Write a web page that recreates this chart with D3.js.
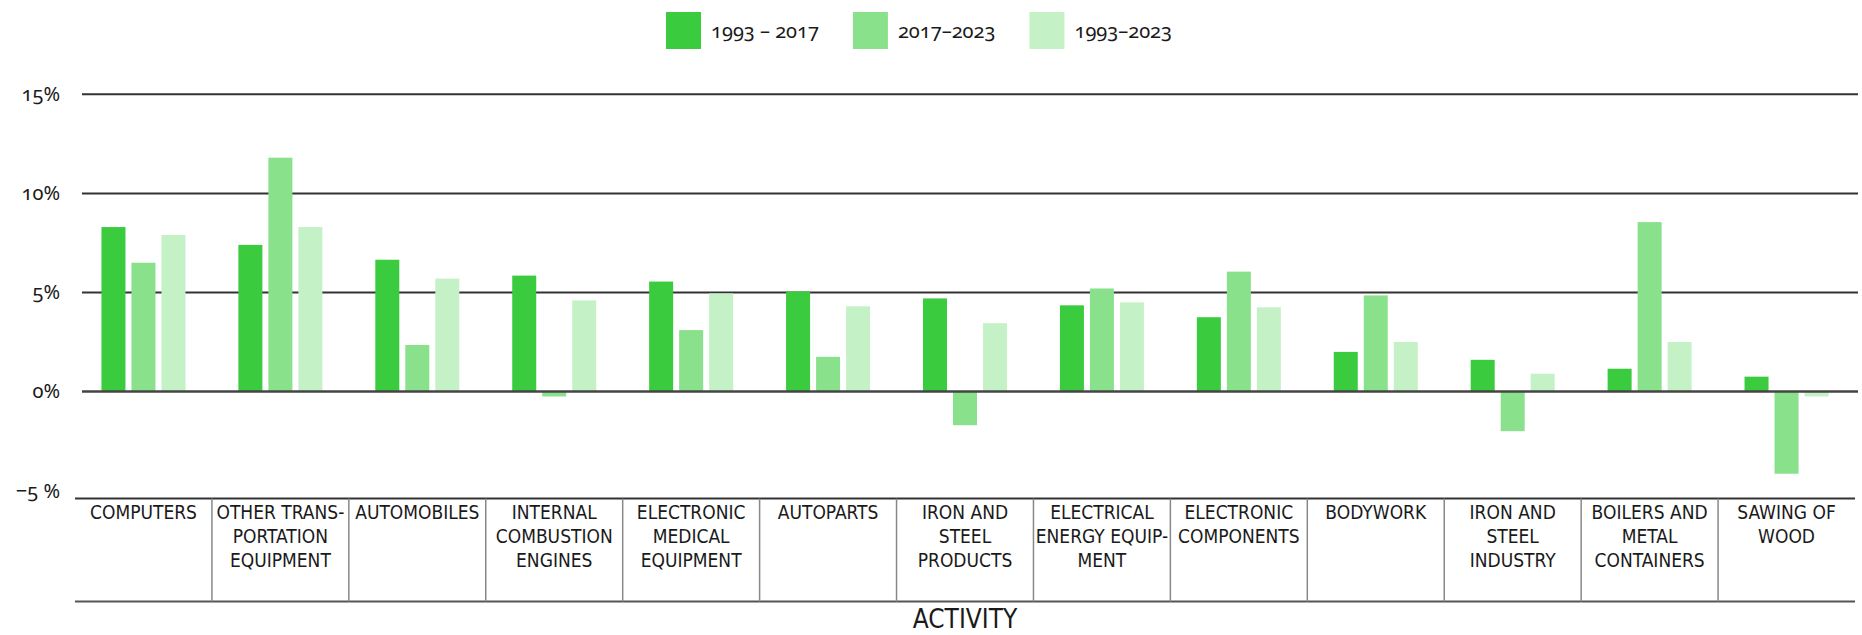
<!DOCTYPE html>
<html><head><meta charset="utf-8">
<script src="https://cdn.jsdelivr.net/npm/d3@7"></script>
<style>
body{margin:0;background:#fff}
svg{display:block}
.num{font-family:"Noto Sans","Open Sans",sans-serif;font-variant-numeric:oldstyle-nums;font-feature-settings:"onum" 1;fill:#1a1a1a}
.cat{font-family:"Liberation Sans Narrow","DejaVu Sans Condensed","Liberation Sans",sans-serif;fill:#1a1a1a}
</style>
</head><body>
<svg id="c" width="1862" height="635"></svg>
<script>
const categories = [
  "COMPUTERS",
  "OTHER TRANS-\nPORTATION\nEQUIPMENT",
  "AUTOMOBILES",
  "INTERNAL\nCOMBUSTION\nENGINES",
  "ELECTRONIC\nMEDICAL\nEQUIPMENT",
  "AUTOPARTS",
  "IRON AND\nSTEEL\nPRODUCTS",
  "ELECTRICAL\nENERGY EQUIP-\nMENT",
  "ELECTRONIC\nCOMPONENTS",
  "BODYWORK",
  "IRON AND\nSTEEL\nINDUSTRY",
  "BOILERS AND\nMETAL\nCONTAINERS",
  "SAWING OF\nWOOD"
];
const seriesNames = ["1993 – 2017", "2017–2023", "1993–2023"];
const v1993_2017 = [8.3, 7.4, 6.65, 5.85, 5.55, 5.05, 4.7, 4.35, 3.75, 2.0, 1.6, 1.15, 0.75];
const v2017_2023 = [6.5, 11.8, 2.35, -0.25, 3.1, 1.75, -1.7, 5.2, 6.05, 4.85, -2.0, 8.55, -4.15];
const v1993_2023 = [7.9, 8.3, 5.7, 4.6, 4.95, 4.3, 3.45, 4.5, 4.25, 2.5, 0.9, 2.5, -0.25];
const yTicks = [15, 10, 5, 0, -5];
const yTickLabels = ["15%", "10%", "5%", "0%", "−5 %"];
const xTitle = "ACTIVITY";
const colors = ["#3acb3e", "#8ae18b", "#c5f1c7"];

const seriesValues = [v1993_2017, v2017_2023, v1993_2023];
const rows = [];
categories.forEach((c, i) => seriesNames.forEach((s, j) => rows.push({c, s, j, v: seriesValues[j][i]})));

const svg = d3.select("#c");
const x = d3.scaleBand().domain(categories).range([75, 1855]).padding(0);
const xs = d3.scaleBand().domain(seriesNames).range([-42, 42]).paddingInner(0.2);
const y = d3.scaleLinear().domain([-5, 15]).range([490.6, 94.3]);
const color = d3.scaleOrdinal().domain(seriesNames).range(colors);

// gridlines
svg.append("g").selectAll("line").data(yTicks.filter(t => t > 0)).join("line")
  .attr("x1", 82).attr("x2", 1858)
  .attr("y1", d => y(d)).attr("y2", d => y(d))
  .attr("stroke", "#333").attr("stroke-width", 2);

// bars
svg.append("g").selectAll("rect").data(rows).join("rect")
  .attr("x", d => x(d.c) + x.bandwidth() / 2 + xs(d.s))
  .attr("width", xs.bandwidth())
  .attr("y", d => y(Math.max(0, d.v)))
  .attr("height", d => Math.abs(y(d.v) - y(0)))
  .attr("fill", d => color(d.s));

// zero line
svg.append("line").attr("x1", 82).attr("x2", 1858)
  .attr("y1", y(0)).attr("y2", y(0))
  .attr("stroke", "#444").attr("stroke-width", 2.5);

// y axis labels
const yAxis = svg.append("g").attr("transform", "translate(60,0)")
  .call(d3.axisLeft(y).tickValues(yTicks).tickSize(0).tickPadding(0)
    .tickFormat((d, i) => yTickLabels[i]));
yAxis.select(".domain").remove();
yAxis.selectAll("text").attr("class", "num").attr("font-size", 20).attr("fill", "#1a1a1a");

// category table
const tableTop = y(-5) + 8;
const tableBottom = tableTop + 103;
svg.append("line").attr("x1", 75).attr("x2", 1855).attr("y1", tableTop).attr("y2", tableTop)
  .attr("stroke", "#333").attr("stroke-width", 2);
svg.append("line").attr("x1", 75).attr("x2", 1855).attr("y1", tableBottom).attr("y2", tableBottom)
  .attr("stroke", "#555").attr("stroke-width", 2);
svg.append("g").selectAll("line").data(categories.slice(1)).join("line")
  .attr("x1", d => x(d)).attr("x2", d => x(d))
  .attr("y1", tableTop).attr("y2", tableBottom)
  .attr("stroke", "#888").attr("stroke-width", 1.5);

const cat = svg.append("g").selectAll("text").data(categories).join("text")
  .attr("class", "cat").attr("font-size", 19).attr("text-anchor", "middle")
  .attr("x", d => x(d) + x.bandwidth() / 2)
  .attr("y", tableTop + 20);
cat.selectAll("tspan").data(d => d.split("\n")).join("tspan")
  .attr("x", function () { return d3.select(this.parentNode).attr("x"); })
  .attr("dy", (d, i) => i === 0 ? 0 : 24)
  .text(d => d);

// x title
svg.append("text").attr("class", "cat").attr("font-size", 26).attr("text-anchor", "middle")
  .attr("x", (x.range()[0] + x.range()[1]) / 2).attr("y", 628).text(xTitle);

// legend
const leg = svg.append("g");
let lx = 666;
seriesNames.forEach((s, i) => {
  leg.append("rect").attr("x", lx).attr("y", 12).attr("width", 35).attr("height", 37).attr("fill", colors[i]);
  const t = leg.append("text").attr("class", "num").attr("font-size", 20)
    .attr("x", lx + 45).attr("y", 38).text(s);
  const w = t.node().getComputedTextLength();
  lx = lx + 45 + w + 34;
});
</script>
</body></html>
